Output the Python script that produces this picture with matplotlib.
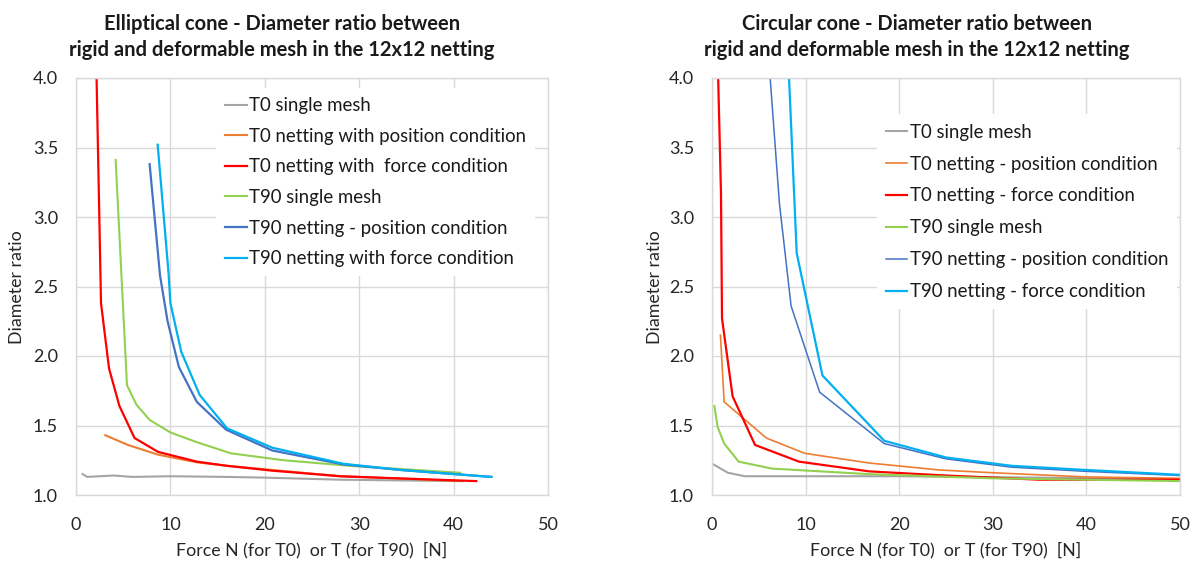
import matplotlib
matplotlib.use("Agg")
import matplotlib.pyplot as plt

plt.rcParams['font.family'] = ['Lato', 'DejaVu Sans']

# ---------------- Elliptical cone (left) ----------------
ell_t0_single_x = [0.7, 1.2, 2.5, 4.0, 6.0, 10.0, 16.0, 20.0, 28.0, 40.5]
ell_t0_single_y = [1.15, 1.13, 1.135, 1.14, 1.13, 1.135, 1.13, 1.125, 1.11, 1.10]

ell_t0_pos_x = [3.1, 5.5, 8.7, 12.8, 16.0, 20.8, 28.0, 41.0]
ell_t0_pos_y = [1.43, 1.36, 1.29, 1.235, 1.21, 1.18, 1.135, 1.10]

ell_t0_force_x = [2.15, 2.65, 3.5, 4.6, 6.2, 8.7, 12.8, 16.0, 20.8, 28.0, 34.0, 42.4]
ell_t0_force_y = [4.10, 2.38, 1.91, 1.64, 1.41, 1.31, 1.24, 1.21, 1.175, 1.135, 1.12, 1.10]

ell_t90_single_x = [4.2, 5.4, 6.4, 7.8, 10.0, 12.8, 16.4, 22.0, 29.0, 40.7]
ell_t90_single_y = [3.41, 1.79, 1.65, 1.54, 1.45, 1.38, 1.30, 1.25, 1.21, 1.16]

ell_t90_pos_x = [7.8, 8.9, 9.7, 10.9, 12.8, 15.9, 20.8, 28.3, 34.4, 44.0]
ell_t90_pos_y = [3.38, 2.58, 2.25, 1.92, 1.67, 1.47, 1.32, 1.22, 1.18, 1.13]

ell_t90_force_x = [8.65, 9.8, 10.0, 11.15, 13.1, 16.0, 20.8, 28.3, 34.4, 44.0]
ell_t90_force_y = [3.52, 2.60, 2.38, 2.03, 1.72, 1.48, 1.34, 1.225, 1.18, 1.13]

# ---------------- Circular cone (right) ----------------
cir_t0_single_x = [0.15, 1.7, 3.5, 10.0, 20.0, 35.0, 50.0]
cir_t0_single_y = [1.22, 1.16, 1.135, 1.135, 1.135, 1.125, 1.115]

cir_t0_pos_x = [0.9, 1.3, 5.8, 9.9, 16.8, 24.3, 30.0, 40.0, 50.0]
cir_t0_pos_y = [2.15, 1.67, 1.41, 1.30, 1.23, 1.18, 1.16, 1.13, 1.12]

cir_t0_force_x = [0.55, 0.96, 1.07, 2.2, 4.6, 9.3, 16.8, 25.0, 35.0, 50.0]
cir_t0_force_y = [4.30, 3.17, 2.27, 1.71, 1.36, 1.24, 1.17, 1.14, 1.11, 1.11]

cir_t90_single_x = [0.25, 0.6, 1.3, 2.85, 6.4, 16.8, 30.0, 50.0]
cir_t90_single_y = [1.64, 1.49, 1.37, 1.24, 1.19, 1.15, 1.12, 1.10]

cir_t90_pos_x = [6.05, 7.2, 8.45, 11.5, 18.4, 25.0, 32.0, 40.0, 50.0]
cir_t90_pos_y = [4.15, 3.10, 2.36, 1.74, 1.37, 1.26, 1.20, 1.17, 1.14]

cir_t90_force_x = [8.1, 9.05, 11.8, 18.4, 25.0, 32.0, 40.0, 50.0]
cir_t90_force_y = [4.20, 2.74, 1.86, 1.39, 1.27, 1.21, 1.18, 1.145]

x_ticks = [0, 10, 20, 30, 40, 50]
y_ticks = [1.0, 1.5, 2.0, 2.5, 3.0, 3.5, 4.0]

left_title = "Elliptical cone - Diameter ratio between\nrigid and deformable mesh in the 12x12 netting"
right_title = "Circular cone - Diameter ratio between\nrigid and deformable mesh in the 12x12 netting"
x_label = "Force N (for T0)  or T (for T90)  [N]"
y_label = "Diameter ratio"

left_labels = ["T0 single mesh", "T0 netting with position condition",
               "T0 netting with  force condition", "T90 single mesh",
               "T90 netting - position condition", "T90 netting with force condition"]
right_labels = ["T0 single mesh", "T0 netting - position condition",
                "T0 netting - force condition", "T90 single mesh",
                "T90 netting - position condition", "T90 netting - force condition"]

colors = ['#A5A5A5', '#ED7D31', '#FF0000', '#92D050', '#4472C4', '#00B0F0']

W, H = 1198, 563
fig = plt.figure(figsize=(W / 100, H / 100), dpi=100)
renderer = fig.canvas.get_renderer()


def fit_size(txt, target_px, vertical=False):
    bb = txt.get_window_extent(renderer)
    cur = bb.height if vertical else bb.width
    txt.set_fontsize(txt.get_fontsize() * target_px / cur)
    return txt.get_fontsize()


ax_l = fig.add_axes([76 / W, 1 - 495 / H, 472 / W, 417 / H])
ax_r = fig.add_axes([712 / W, 1 - 495 / H, 468 / W, 417 / H])

left_series = [(ell_t0_single_x, ell_t0_single_y), (ell_t0_pos_x, ell_t0_pos_y),
               (ell_t0_force_x, ell_t0_force_y), (ell_t90_single_x, ell_t90_single_y),
               (ell_t90_pos_x, ell_t90_pos_y), (ell_t90_force_x, ell_t90_force_y)]
right_series = [(cir_t0_single_x, cir_t0_single_y), (cir_t0_pos_x, cir_t0_pos_y),
                (cir_t0_force_x, cir_t0_force_y), (cir_t90_single_x, cir_t90_single_y),
                (cir_t90_pos_x, cir_t90_pos_y), (cir_t90_force_x, cir_t90_force_y)]

left_lw = [1.5, 1.5, 1.6, 1.5, 1.6, 1.6]
right_lw = [1.5, 1.2, 1.6, 1.5, 1.1, 1.6]

tick_color = '#262626'
grid_color = '#D9D9D9'

for ax, series, labels, lws in [(ax_l, left_series, left_labels, left_lw),
                                (ax_r, right_series, right_labels, right_lw)]:
    for (xs, ys), lab, c, lw in zip(series, labels, colors, lws):
        ax.plot(xs, ys, color=c, lw=lw, label=lab, solid_joinstyle='round')
    ax.set_xlim(0, 50)
    ax.set_ylim(1.0, 4.0)
    ax.set_xticks(x_ticks)
    ax.set_yticks(y_ticks)
    ax.set_yticklabels([f"{v:.1f}" for v in y_ticks])
    ax.grid(True, color=grid_color, lw=1.0)
    ax.set_axisbelow(True)
    for s in ax.spines.values():
        s.set_color(grid_color)
        s.set_linewidth(1.0)
    ax.tick_params(length=0, labelsize=13, colors=tick_color)
    ax.tick_params(axis='y', pad=13)
    ax.tick_params(axis='x', pad=16)

# legend font size fitted to reference text width
probe = fig.text(0, 0, left_labels[1], fontsize=12)
leg_fs = fit_size(probe, 276)
probe.remove()

leg_l = ax_l.legend(loc='upper left', bbox_to_anchor=(0.2966, 0.976), fontsize=leg_fs,
                    frameon=True, fancybox=False, edgecolor='none', facecolor='white',
                    framealpha=1.0, borderpad=0.5, borderaxespad=0, labelspacing=0.73,
                    handlelength=1.15, handletextpad=0.12)
leg_r = ax_r.legend(loc='upper left', bbox_to_anchor=(0.352, 0.9127), fontsize=leg_fs,
                    frameon=True, fancybox=False, edgecolor='none', facecolor='white',
                    framealpha=1.0, borderpad=0.5, borderaxespad=0, labelspacing=0.8,
                    handlelength=1.15, handletextpad=0.12)
for leg in (leg_l, leg_r):
    for t in leg.get_texts():
        t.set_color('#1a1a1a')

# titles
t1 = fig.text(282 / W, 1 - 37 / H, left_title, ha='center', va='center', fontsize=13.5,
              fontweight='bold', linespacing=1.38, color='#1a1a1a')
t2 = fig.text(917 / W, 1 - 37 / H, right_title, ha='center', va='center', fontsize=13.5,
              fontweight='bold', linespacing=1.38, color='#1a1a1a')
tfs = fit_size(t1, 425)
t2.set_fontsize(tfs)

# axis labels
xl1 = fig.text(312 / W, 1 - 550 / H, x_label, ha='center', va='center', fontsize=12.5, color=tick_color)
lab_fs = fit_size(xl1, 273)
fig.text(946 / W, 1 - 550 / H, x_label, ha='center', va='center', fontsize=lab_fs, color=tick_color)
fig.text(17 / W, 1 - 287 / H, y_label, ha='center', va='center', rotation=90, fontsize=lab_fs, color=tick_color)
fig.text(655 / W, 1 - 287 / H, y_label, ha='center', va='center', rotation=90, fontsize=lab_fs, color=tick_color)

fig.savefig("out.png", dpi=100)
